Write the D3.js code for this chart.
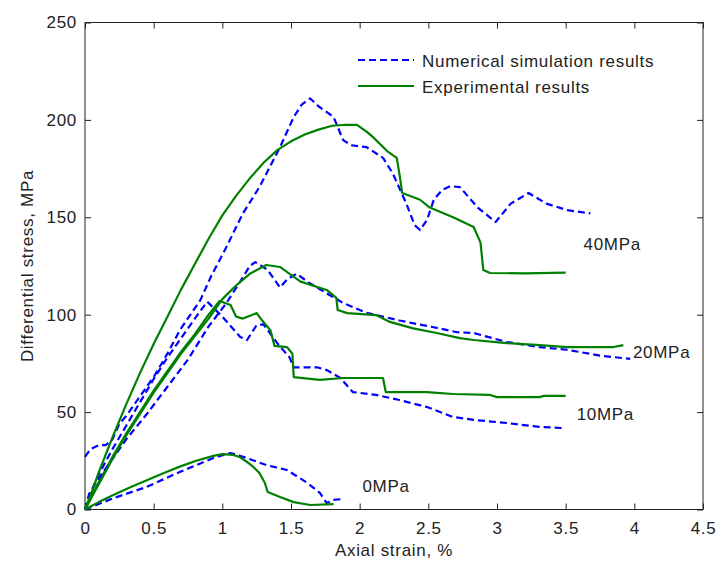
<!DOCTYPE html>
<html>
<head>
<meta charset="utf-8">
<script src="https://cdn.jsdelivr.net/npm/d3@7"></script>
<style>
  body { margin: 0; background: #fff; }
  svg text { font-family: "Liberation Sans", Arial, sans-serif; font-size: 17px; letter-spacing: 0.7px; fill: #222; }
</style>
</head>
<body>
<svg id="chart" width="718" height="564"></svg>
<script>
// axis ticks
const xTicks = [0, 0.5, 1, 1.5, 2, 2.5, 3, 3.5, 4, 4.5];
const yTicks = [0, 50, 100, 150, 200, 250];

// [axial strain %, differential stress MPa]
const sim40 = [[0,27],[0.04,31],[0.1,33],[0.15,33],[0.2,36],[0.25,44],[0.3,48],[0.4,58],[0.5,68],[0.6,80],[0.69,92],[0.84,107.5],[0.92,120],[1.01,132],[1.15,152],[1.27,165.5],[1.42,186],[1.52,201.5],[1.58,208],[1.64,211],[1.7,207],[1.81,201.5],[1.88,189.6],[1.94,187],[2.05,186],[2.17,180.5],[2.24,172.7],[2.34,157],[2.4,146],[2.44,143.5],[2.49,148.6],[2.54,159],[2.6,164],[2.66,166],[2.73,165.5],[2.86,155],[2.99,147.6],[3.1,157],[3.23,162.5],[3.36,157],[3.51,153.7],[3.68,152]];
const exp40 = [[0,0],[0.05,9],[0.1,19],[0.15,28],[0.2,37],[0.3,54],[0.4,70],[0.5,85],[0.6,99],[0.7,113],[0.8,126],[0.9,139],[1.0,151],[1.1,161],[1.2,170],[1.3,178],[1.4,184.5],[1.5,189],[1.6,192.5],[1.7,195],[1.8,197],[1.9,197.5],[1.98,197.4],[2.05,194],[2.1,191],[2.15,187.5],[2.2,184],[2.27,180.5],[2.29,172],[2.31,162.5],[2.44,159],[2.51,155],[2.68,150],[2.83,145],[2.88,137],[2.9,123],[2.95,121.4],[3.2,121.2],[3.5,121.6]];
const sim20 = [[0,0],[0.03,8],[0.1,16],[0.2,26],[0.3,36],[0.45,49],[0.6,63],[0.75,77],[0.9,94],[1.03,106],[1.13,117],[1.2,125],[1.24,127],[1.33,123],[1.42,114],[1.47,118],[1.54,121],[1.64,116],[1.76,111],[1.88,106],[2.05,101],[2.29,97],[2.53,93.7],[2.71,91],[2.83,90.6],[3.07,86],[3.31,83.4],[3.51,82],[3.75,79],[3.97,77.3]];
const exp20 = [[0,0],[0.1,13],[0.2,26],[0.3,38],[0.4,49],[0.5,60],[0.6,70],[0.7,80],[0.8,89],[0.9,98],[1.0,108],[1.1,115],[1.2,121],[1.32,125.5],[1.42,124.5],[1.49,121],[1.57,117],[1.76,112.7],[1.83,108.6],[1.84,102.4],[1.91,100.8],[2.12,99.8],[2.22,96.3],[2.39,93],[2.56,90.6],[2.73,88],[2.83,87],[3.07,85.4],[3.31,84.4],[3.51,83.4],[3.85,83.4],[3.92,84.4]];
const sim10 = [[0,0],[0.05,10],[0.1,18],[0.2,31],[0.3,43],[0.4,55],[0.5,67],[0.6,78],[0.7,88],[0.8,98],[0.89,106.7],[1.0,99],[1.13,88.6],[1.18,87],[1.25,94.7],[1.3,95],[1.4,85.4],[1.49,78],[1.52,73],[1.69,73],[1.76,71.6],[1.86,67.5],[1.95,60.3],[2.12,58.8],[2.29,56.2],[2.49,52.6],[2.68,47.5],[2.83,46],[3.07,44.4],[3.31,42.4],[3.48,41.8]];
const exp10 = [[0,0],[0.1,14],[0.2,27],[0.3,39],[0.4,50],[0.5,61],[0.6,71],[0.7,81],[0.8,90],[0.9,100],[0.98,107],[1.06,105],[1.1,99],[1.15,98],[1.25,100.8],[1.29,97],[1.35,92],[1.38,84],[1.47,83.4],[1.51,80],[1.52,68],[1.71,66.5],[1.88,67.5],[2.17,67.5],[2.19,60.3],[2.49,60.3],[2.68,59.3],[2.95,58.8],[3.0,57.7],[3.31,57.7],[3.34,58.3],[3.5,58.3]];
const sim0 = [[0,0],[0.21,5.9],[0.45,11.6],[0.69,19.3],[0.935,26.4],[1.06,29],[1.18,26.4],[1.32,22.8],[1.47,20.3],[1.62,13.6],[1.71,8.5],[1.76,3.3],[1.81,4.9],[1.88,5.4]];
const exp0 = [[0,0],[0.1,3.8],[0.21,7.6],[0.33,11.4],[0.45,15],[0.57,18.6],[0.69,22],[0.81,25],[0.935,27.5],[1.0,28.4],[1.08,28],[1.13,26.8],[1.18,24.4],[1.23,21.6],[1.27,18.7],[1.31,13.6],[1.33,9],[1.42,6.4],[1.52,3.8],[1.64,2.3],[1.81,2.8]];

// pressure labels placed at [strain, stress]
const pressureLabels = [
  { text: '40MPa', at: [3.63, 133] },
  { text: '20MPa', at: [3.99, 78] },
  { text: '10MPa', at: [3.58, 46] },
  { text: '0MPa', at: [2.02, 9] }
];
const legendNames = ['Numerical simulation results', 'Experimental results'];

const blue = '#0000ff';
const green = '#008000';

const svg = d3.select('#chart');
const margin = { top: 22.5, right: 15, bottom: 54.5, left: 85 };
const width = 718 - margin.left - margin.right;
const height = 564 - margin.top - margin.bottom;

const x = d3.scaleLinear().domain([0, 4.5]).range([margin.left, margin.left + width]);
const y = d3.scaleLinear().domain([0, 250]).range([margin.top + height, margin.top]);

const line = d3.line()
  .x((d) => x(d[0]))
  .y((d) => y(d[1]));

// axes, ticks pointing inwards on all sides
const axisB = svg.append('g')
  .attr('transform', 'translate(0,' + y(0) + ')')
  .call(d3.axisBottom(x).tickValues(xTicks).tickSizeInner(-6).tickSizeOuter(0).tickPadding(12).tickFormat(d3.format('')));
const axisL = svg.append('g')
  .attr('transform', 'translate(' + x(0) + ',0)')
  .call(d3.axisLeft(y).tickValues(yTicks).tickSizeInner(-6).tickSizeOuter(0).tickPadding(8));
const axisT = svg.append('g')
  .attr('transform', 'translate(0,' + y(250) + ')')
  .call(d3.axisTop(x).tickValues(xTicks).tickSizeInner(-6).tickSizeOuter(0).tickFormat(''));
const axisR = svg.append('g')
  .attr('transform', 'translate(' + x(4.5) + ',0)')
  .call(d3.axisRight(y).tickValues(yTicks).tickSizeInner(-6).tickSizeOuter(0).tickFormat(''));

[axisB, axisL, axisT, axisR].forEach((g) => {
  g.select('.domain').remove();
  g.selectAll('line').attr('stroke', '#222');
  g.attr('font-size', null).attr('font-family', null);
});

svg.append('rect')
  .attr('x', x(0))
  .attr('y', y(250))
  .attr('width', x(4.5) - x(0))
  .attr('height', y(0) - y(250))
  .attr('fill', 'none')
  .attr('stroke', '#222')
  .attr('stroke-width', 1);

// curves
const curves = [
  { data: sim0, sim: true }, { data: exp0, sim: false },
  { data: sim10, sim: true }, { data: exp10, sim: false },
  { data: sim20, sim: true }, { data: exp20, sim: false },
  { data: sim40, sim: true }, { data: exp40, sim: false }
];
svg.append('g').selectAll('path')
  .data(curves)
  .enter().append('path')
  .attr('d', (d) => line(d.data))
  .attr('fill', 'none')
  .attr('stroke', (d) => d.sim ? blue : green)
  .attr('stroke-width', 2.2)
  .attr('stroke-dasharray', (d) => d.sim ? '7,4' : null)
  .attr('stroke-linejoin', 'round');

svg.append('g').selectAll('text')
  .data(pressureLabels)
  .enter().append('text')
  .attr('x', (d) => x(d.at[0]))
  .attr('y', (d) => y(d.at[1]))
  .text((d) => d.text);

// legend
const legend = svg.append('g');
legendNames.forEach((name, i) => {
  const ly = 60 + i * 26;
  legend.append('line')
    .attr('x1', 358).attr('x2', 414)
    .attr('y1', ly).attr('y2', ly)
    .attr('stroke', i === 0 ? blue : green)
    .attr('stroke-width', 2.2)
    .attr('stroke-dasharray', i === 0 ? '7,4' : null);
  legend.append('text')
    .attr('x', 422)
    .attr('y', ly + 7)
    .text(name);
});

// axis titles
svg.append('text')
  .attr('x', (x(0) + x(4.5)) / 2)
  .attr('y', 556)
  .attr('text-anchor', 'middle')
  .text('Axial strain, %');

svg.append('text')
  .attr('transform', 'translate(33,' + (y(125)) + ') rotate(-90)')
  .attr('text-anchor', 'middle')
  .text('Differential stress, MPa');
</script>
</body>
</html>
